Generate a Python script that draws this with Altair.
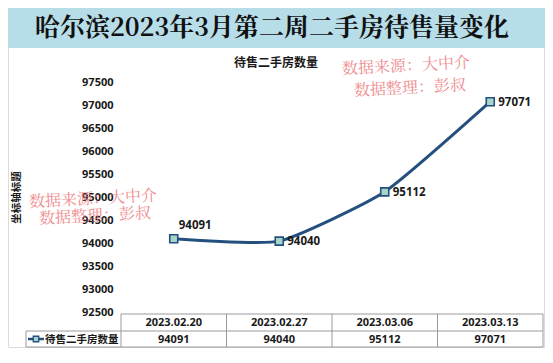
import altair as alt
import pandas as pd

# ---------------- data ----------------
title_text = "哈尔滨2023年3月第二周二手房待售量变化"
chart_title = "待售二手房数量"
series_name = "待售二手房数量"
y_title = "坐标轴标题"
dates = ["2023.02.20", "2023.02.27", "2023.03.06", "2023.03.13"]
values = [94091, 94040, 95112, 97071]
y_ticks = [92500, 93000, 93500, 94000, 94500, 95000, 95500, 96000, 96500, 97000, 97500]
wm_line1 = "数据来源：大中介"
wm_line2 = "数据整理：彭叔"

df = pd.DataFrame({"date": dates, "value": values})

# ---------------- styles ----------------
W, H = 422, 230
LINE = "#24507f"
FILL = "#a8d5c9"
GRID = "#9a9a9a"
BANNER = "#b7dde8"
CJK = "Noto Sans CJK SC"
SERIF = "'Noto Serif CJK SC', 'Noto Sans CJK SC'"
NUM = "Open Sans"
WM = "#ee7f84"

xscale = alt.Scale(type="band", paddingInner=0, paddingOuter=0)


def X(bp):
    return alt.X("date:N", sort=dates, scale=xscale, axis=None, bandPosition=bp)


yenc = alt.Y(
    "value:Q",
    scale=alt.Scale(domain=[92500, 97500], nice=False, zero=False),
    axis=alt.Axis(
        values=y_ticks, format="d", grid=False, domain=False, ticks=False,
        labelPadding=8, labelFont=NUM, labelFontSize=11, labelFontWeight="bold",
        labelColor="#1a1a1a", title=y_title, titleFont=CJK, titleFontSize=10.5,
        titleFontWeight="bold", titleColor="#1a1a1a", titleX=-105, titleY=115,
        titleAngle=270, titleAlign="center", titleBaseline="middle",
    ),
)

one = pd.DataFrame({"a": [0]})


def txt(text, x, y, **kw):
    return alt.Chart(pd.DataFrame({"t": [text]})).mark_text(**kw).encode(
        x=alt.value(x), y=alt.value(y), text="t:N"
    )


def hline(x1, x2, y, color=GRID, w=1):
    return alt.Chart(one).mark_rule(color=color, strokeWidth=w).encode(
        x=alt.value(x1), x2=alt.value(x2), y=alt.value(y)
    )


def vline(x, y1, y2, color=GRID, w=1):
    return alt.Chart(one).mark_rule(color=color, strokeWidth=w).encode(
        x=alt.value(x), y=alt.value(y1), y2=alt.value(y2)
    )


frame = alt.Chart(one).mark_rect(fillOpacity=0, stroke="#d3dde5", strokeWidth=1).encode(
    x=alt.value(-112.5), x2=alt.value(423.5), y=alt.value(-73.5), y2=alt.value(265.5)
)
banner = alt.Chart(one).mark_rect(color=BANNER).encode(
    x=alt.value(-113), x2=alt.value(424), y=alt.value(-74), y2=alt.value(-34)
)
title = txt(title_text, 151, -54, font=SERIF, fontSize=25, fontWeight="bold",
            color="#111111", align="center", baseline="middle")
subtitle = txt(chart_title, 155, -19, font=CJK, fontSize=12, fontWeight="bold",
               color="#1a1a1a", align="center", baseline="middle")

line = alt.Chart(df).mark_line(color=LINE, strokeWidth=3, interpolate="cardinal",
                               tension=0.5).encode(
    x=X(0.5), y=yenc
)
pts = alt.Chart(df).mark_square(size=64, fill=FILL, stroke=LINE, strokeWidth=1.6, opacity=1).encode(
    x=X(0.5), y=yenc
)
lab_first = alt.Chart(df).transform_filter(alt.datum.date == dates[0]).mark_text(
    align="left", baseline="middle", dx=5, dy=-13, font=NUM, fontSize=11.5,
    fontWeight="bold", color="#1a1a1a"
).encode(x=X(0.5), y=yenc, text=alt.Text("value:Q", format="d"))
lab_rest = alt.Chart(df).transform_filter(alt.datum.date != dates[0]).mark_text(
    align="left", baseline="middle", dx=8, dy=1, font=NUM, fontSize=11.5,
    fontWeight="bold", color="#1a1a1a"
).encode(x=X(0.5), y=yenc, text=alt.Text("value:Q", format="d"))

# ---------------- data table ----------------
T0, T1, T2 = 232, 249, 265
tab_v = alt.Chart(df).mark_rule(color=GRID, strokeWidth=1).encode(
    x=X(0), y=alt.value(T0), y2=alt.value(T2)
)
tab_right = vline(W, T0, T2)
tab_left = vline(-95, T1, T2)
tab_top = hline(0, W, T0)
tab_mid = hline(-95, W, T1)
tab_bot = hline(-95, W, T2)
head = alt.Chart(df).mark_text(font=NUM, fontSize=11, fontWeight="bold", color="#1a1a1a",
                               baseline="middle").encode(
    x=X(0.5), y=alt.value((T0 + T1) / 2 + 0.5), text="date:N"
)
vals = alt.Chart(df).mark_text(font=NUM, fontSize=11, fontWeight="bold", color="#1a1a1a",
                               baseline="middle").encode(
    x=X(0.5), y=alt.value((T1 + T2) / 2 + 0.5), text=alt.Text("value:Q", format="d")
)
leg_line = hline(-93, -77, (T1 + T2) / 2, color=LINE, w=2.5)
leg_pt = alt.Chart(one).mark_square(size=30, fill=FILL, stroke=LINE, strokeWidth=1.3, opacity=1).encode(
    x=alt.value(-85), y=alt.value((T1 + T2) / 2)
)
leg_txt = txt(series_name, -76, (T1 + T2) / 2 + 0.5, font=CJK, fontSize=10.5, fontWeight="bold",
              color="#1a1a1a", align="left", baseline="middle")

# ---------------- watermarks ----------------
wm_kw = dict(font=SERIF, fontSize=16, color=WM, opacity=0.9, align="center",
             baseline="middle", angle=357)
wm = [
    txt(wm_line1, 285, -16, **wm_kw),
    txt(wm_line2, 289, 6, **wm_kw),
    txt(wm_line1, -28, 117, **wm_kw),
    txt(wm_line2, -26, 134, **wm_kw),
]

chart = alt.layer(
    frame, banner, title, subtitle,
    tab_v, tab_right, tab_left, tab_top, tab_mid, tab_bot, head, vals,
    leg_line, leg_pt, leg_txt,
    line, pts, lab_first, lab_rest,
    *wm,
).properties(
    width=W, height=H,
    autosize=alt.AutoSizeParams(type="none"),
    padding={"left": 113, "top": 74, "right": 2, "bottom": 36},
    background="white",
).configure_view(stroke=None)

chart.save("out.html", embed_options={"renderer": "svg", "actions": False})
